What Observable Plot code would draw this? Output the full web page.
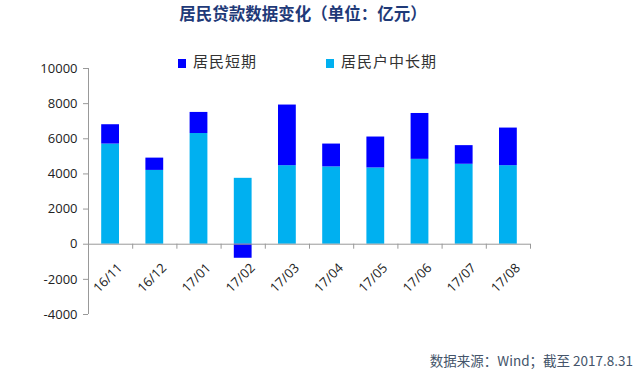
<!DOCTYPE html>
<html>
<head>
<meta charset="utf-8">
<script src="https://cdn.jsdelivr.net/npm/d3@7"></script>
<script src="https://cdn.jsdelivr.net/npm/@observablehq/plot@0.6"></script>
<style>
  html, body { margin: 0; padding: 0; background: #fff; }
  #wrap { position: relative; width: 640px; height: 375px; overflow: hidden; font-family: "Open Sans", "Noto Sans CJK SC", sans-serif; }
  #chart { position: absolute; left: 0; top: 0; }
  .title { position: absolute; left: 0; width: 606px; top: 2px; text-align: center; font-family: "Noto Sans CJK SC", sans-serif; font-weight: bold; font-size: 16.5px; color: #1f3a78; line-height: 22px; }
  .legend { position: absolute; top: 51px; font-family: "Noto Sans CJK SC", sans-serif; font-size: 15px; color: #333; line-height: 20px; letter-spacing: 1px; }
  .legend .sw { display: inline-block; width: 8px; height: 9px; margin-right: 7px; vertical-align: -1px; }
  .footer { position: absolute; right: 7px; top: 351px; font-family: "Noto Sans CJK SC", "Open Sans", sans-serif; font-size: 13.5px; color: #44546a; line-height: 18px; }
</style>
</head>
<body>
<div id="wrap">
  <div id="chart"></div>
  <div class="title" id="title"></div>
  <div id="legend"></div>
  <div class="footer" id="footer"></div>
</div>
<script>
const titleText = "居民贷款数据变化（单位：亿元）";
const footerText = "数据来源：Wind；截至 2017.8.31";
const months = ["16/11","16/12","17/01","17/02","17/03","17/04","17/05","17/06","17/07","17/08"];
const seriesNames = ["居民户中长期", "居民短期"];
const seriesColors = ["#00B0F0", "#0000FF"];
const longTerm = [5700, 4200, 6300, 3750, 4470, 4400, 4340, 4830, 4550, 4470];
const shortTerm = [1100, 700, 1200, -800, 3450, 1300, 1760, 2610, 1060, 2140];
const yTicks = [-4000, -2000, 0, 2000, 4000, 6000, 8000, 10000];

const rows = [];
months.forEach((m, i) => {
  rows.push({i, month: m, series: seriesNames[0], value: longTerm[i]});
  rows.push({i, month: m, series: seriesNames[1], value: shortTerm[i]});
});
const boundaries = d3.range(months.length + 1);

const plot = Plot.plot({
  width: 640,
  height: 375,
  marginLeft: 88,
  marginRight: 110,
  marginTop: 68,
  marginBottom: 61,
  style: {fontFamily: "'Open Sans', sans-serif", fontSize: "13px", color: "#222", background: "transparent"},
  x: {domain: [0, months.length], axis: null},
  y: {domain: [-4000, 10000], axis: null},
  color: {domain: seriesNames, range: seriesColors},
  marks: [
    Plot.rectY(rows, {x: "i", interval: 1, y: "value", fill: "series", insetLeft: 13.2, insetRight: 13.2}),
    Plot.ruleX([0], {stroke: "#999"}),
    Plot.ruleY([0], {stroke: "#999"}),
    Plot.ruleX(boundaries, {x: d => d, y1: () => 0, y2: () => 0, insetBottom: -5, stroke: "#999"}),
    Plot.axisY({ticks: yTicks, tickFormat: d => String(d), label: null, tickSize: 5, tickPadding: 6, stroke: "#999", fill: "#222", fontSize: 13}),
    Plot.text(months, {x: (d, i) => i + 0.5, y: () => 0, text: d => d, rotate: -45, textAnchor: "end", lineAnchor: "top", dx: 6, dy: 18, fontSize: 13, fill: "#222"})
  ]
});
document.getElementById("chart").appendChild(plot);

document.getElementById("title").textContent = titleText;
document.getElementById("footer").textContent = footerText;

const legendLefts = [326, 178];
const legend = document.getElementById("legend");
[1, 0].forEach(k => {
  const item = document.createElement("div");
  item.className = "legend";
  item.style.left = legendLefts[k] + "px";
  const sw = document.createElement("span");
  sw.className = "sw";
  sw.style.background = seriesColors[k];
  item.appendChild(sw);
  item.appendChild(document.createTextNode(seriesNames[k]));
  legend.appendChild(item);
});
</script>
</body>
</html>
